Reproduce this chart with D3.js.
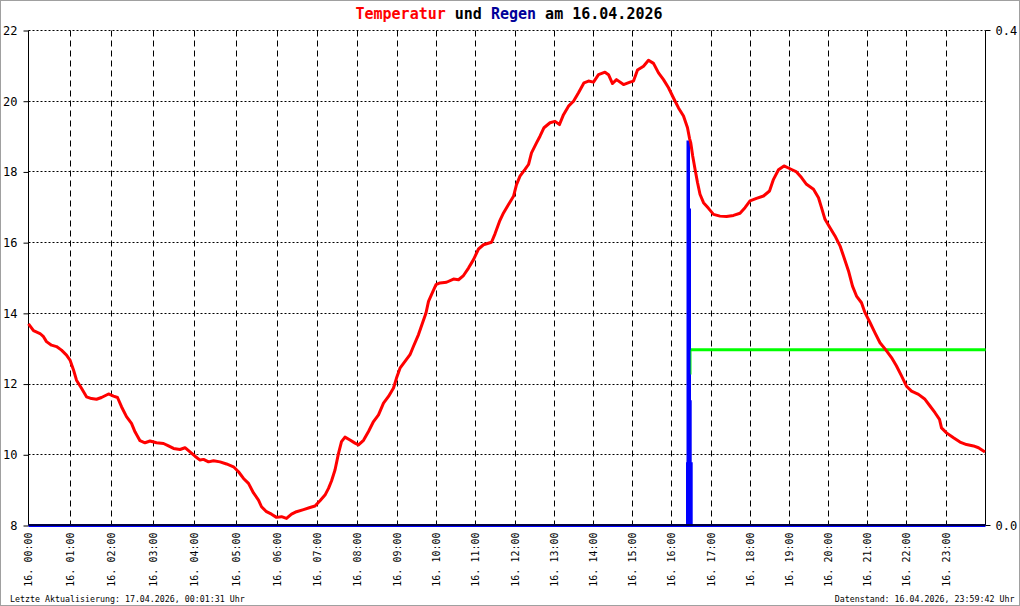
<!DOCTYPE html>
<html>
<head>
<meta charset="utf-8">
<script src="https://cdn.jsdelivr.net/npm/d3@7"></script>
<style>
    body { margin: 0; background: #fff; }
    svg { display: block; }
</style>
</head>
<body>
<div class="chart"></div>
<script>

// Hour labels and the logger sample index at which each hour starts
var hourLabels = ["16. 00:00", "16. 01:00", "16. 02:00", "16. 03:00", "16. 04:00", "16. 05:00",
    "16. 06:00", "16. 07:00", "16. 08:00", "16. 09:00", "16. 10:00", "16. 11:00",
    "16. 12:00", "16. 13:00", "16. 14:00", "16. 15:00", "16. 16:00", "16. 17:00",
    "16. 18:00", "16. 19:00", "16. 20:00", "16. 21:00", "16. 22:00", "16. 23:00"];
var hourSamples = [0, 42, 83, 125, 166, 208, 249, 289, 329, 369, 408, 447,
    487, 526, 565, 604, 643, 683, 722, 761, 800, 839, 878, 918];
var sampleCount = 957;

var tempTicks = [8, 10, 12, 14, 16, 18, 20, 22];
var rainTicks = ["0.4", "0.0"];
var rainTickValues = [0.4, 0.0];

// Temperature (sample index, degrees C)
var tempSamples = [0, 5, 11.5, 15, 18, 23, 28, 33, 38, 41.5, 45, 48, 53, 58, 63, 68, 73, 80, 85, 89,
    93, 98, 103, 106.5, 111.5, 116.5, 121.5, 128, 135, 140, 145, 151.5, 156.5, 161.5, 166.5, 171.5,
    175, 180, 185, 191.5, 198, 205, 210, 215, 220, 225, 230, 233, 238, 243, 248, 253, 258, 263, 268,
    275, 281.5, 286.5, 291.5, 296.5, 300, 303, 306.5, 310, 313, 316.5, 321.5, 326.5, 330, 335, 340,
    345, 350, 355, 360, 365, 368, 371.5, 376.5, 381.5, 385, 390, 394, 397.5, 400, 403, 407.5, 411.5,
    418, 425, 430, 435, 440, 445, 450, 455, 463, 466.5, 471, 475, 480, 485, 488, 491.5, 496.5, 500,
    503, 508, 511.5, 515.5, 521.5, 526.5, 531, 535, 540, 545, 550, 555.5, 560, 565, 570, 576.5, 580,
    584, 588, 595, 601.5, 605, 609, 615, 620, 625, 630, 635, 640, 645, 650, 655, 659, 661, 662.2,
    664.2, 666.5, 669, 671.5, 675, 680, 685, 691.5, 698, 705, 711.5, 716.5, 721.5, 728, 735, 741,
    745, 750, 755.5, 761.5, 768, 773, 778, 785, 790, 793, 796.5, 801.5, 806.5, 811.5, 815, 820, 824,
    828, 833, 836.5, 841.5, 846.5, 851.5, 857.5, 863, 868, 873, 878, 883, 890, 896.5, 901.5, 906.5,
    911, 913, 918, 925, 931.5, 938, 945, 950, 956.5];
var tempValues = [13.70, 13.51, 13.43, 13.34, 13.20, 13.10, 13.06, 12.96, 12.82, 12.68, 12.40, 12.11,
    11.88, 11.64, 11.59, 11.57, 11.62, 11.72, 11.66, 11.62, 11.36, 11.08, 10.89, 10.65, 10.40, 10.34,
    10.39, 10.34, 10.32, 10.25, 10.18, 10.15, 10.20, 10.08, 9.96, 9.85, 9.87, 9.80, 9.83, 9.80, 9.74,
    9.66, 9.52, 9.33, 9.19, 8.92, 8.72, 8.53, 8.39, 8.32, 8.23, 8.25, 8.20, 8.32, 8.39, 8.45, 8.51,
    8.55, 8.70, 8.86, 9.05, 9.26, 9.57, 10.04, 10.37, 10.50, 10.42, 10.33, 10.28, 10.41, 10.66, 10.94,
    11.13, 11.46, 11.65, 11.89, 12.17, 12.45, 12.64, 12.83, 13.07, 13.40, 13.73, 14.01, 14.34, 14.53,
    14.81, 14.86, 14.88, 14.97, 14.95, 15.07, 15.28, 15.52, 15.82, 15.94, 16.01, 16.25, 16.60, 16.84,
    17.08, 17.31, 17.64, 17.88, 18.07, 18.21, 18.54, 18.82, 19.01, 19.25, 19.39, 19.43, 19.34, 19.62,
    19.86, 20.00, 20.24, 20.52, 20.57, 20.54, 20.75, 20.82, 20.75, 20.50, 20.61, 20.47, 20.54, 20.57,
    20.88, 20.99, 21.16, 21.07, 20.80, 20.61, 20.38, 20.09, 19.81, 19.58, 19.25, 18.95, 18.83, 18.45,
    18.08, 17.70, 17.37, 17.13, 16.97, 16.80, 16.75, 16.74, 16.77, 16.83, 16.99, 17.18, 17.25, 17.32,
    17.46, 17.79, 18.06, 18.17, 18.09, 18.00, 17.84, 17.65, 17.51, 17.27, 16.99, 16.66, 16.42, 16.19,
    15.91, 15.62, 15.20, 14.77, 14.49, 14.30, 14.02, 13.74, 13.45, 13.17, 12.96, 12.75, 12.51, 12.23,
    11.94, 11.80, 11.71, 11.57, 11.38, 11.19, 11.00, 10.76, 10.62, 10.48, 10.36, 10.29, 10.25, 10.20,
    10.08];

// Rain per interval (sample index, mm)
var rainSamples = [0, 659, 659.5, 660, 661, 661.7, 662.7, 957];
var rainValues = [0, 0.05, 0.31, 0.255, 0.10, 0.05, 0, 0];

// Rain sum (green)
var sumSamples = [662.5, 662.5, 957];
var sumValues = [0.122, 0.142, 0.142];

var width = 1020,
    height = 606;
var margin = {top: 30, right: 34, bottom: 80, left: 28};

var svg = d3.select(".chart")
    .append("svg")
        .attr("width", width)
        .attr("height", height);

svg.append("rect")
    .attr("width", width)
    .attr("height", height)
    .style("fill", "#fff");

// Scales
var x = d3.scaleLinear()
    .domain([0, sampleCount])
    .range([margin.left + 0.5, width - margin.right - 0.5]);

var y = d3.scaleLinear()
    .domain([8, 22])
    .range([height - margin.bottom - 0.5, margin.top + 0.5]);

var yRain = d3.scaleLinear()
    .domain([0, 0.4])
    .range([height - margin.bottom - 0.5, margin.top + 0.5]);

function crisp(v) { return Math.round(v - 0.5) + 0.5; }

var x0 = x(0), x1 = x(sampleCount), yTop = y(22), yBot = y(8);

// Horizontal dotted grid
svg.append("g").selectAll("line")
    .data(tempTicks.slice(1))
    .enter().append("line")
        .attr("x1", x0)
        .attr("x2", x1)
        .attr("y1", function(d) { return crisp(y(d)); })
        .attr("y2", function(d) { return crisp(y(d)); })
        .style("stroke", "#000")
        .style("stroke-dasharray", "2,2");

// Vertical dashed grid
svg.append("g").selectAll("line")
    .data(hourSamples.slice(1))
    .enter().append("line")
        .attr("x1", function(d) { return x(d); })
        .attr("x2", function(d) { return x(d); })
        .attr("y1", yTop)
        .attr("y2", yBot)
        .style("stroke", "#000")
        .style("stroke-dasharray", "6,4");

// Left axis
var yAxis = d3.axisLeft(y)
    .tickValues(tempTicks)
    .tickSize(5)
    .tickPadding(6)
    .tickFormat(d3.format("d"));

var gy = svg.append("g")
    .attr("transform", "translate(" + x0 + ",0)")
    .call(yAxis);
gy.select(".domain").remove();
gy.selectAll(".tick text")
    .style("font-family", "DejaVu Sans Mono")
    .style("font-size", "12px")
    .style("fill", "#000");

svg.append("line")
    .attr("x1", x0).attr("x2", x0)
    .attr("y1", yTop).attr("y2", yBot)
    .style("stroke", "#000");

// Right axis
svg.append("line")
    .attr("x1", x1).attr("x2", x1)
    .attr("y1", yTop).attr("y2", yBot)
    .style("stroke", "#000");

var right = svg.append("g").selectAll("g")
    .data(rainTickValues)
    .enter().append("g")
        .attr("transform", function(d) { return "translate(" + x1 + "," + crisp(yRain(d)) + ")"; });

right.append("line")
    .attr("x1", 0)
    .attr("x2", 5)
    .style("stroke", "#000");

right.append("text")
    .attr("x", 10)
    .attr("dy", "0.36em")
    .style("font-family", "DejaVu Sans Mono")
    .style("font-size", "12px")
    .text(function(d, i) { return rainTicks[i]; });

// Rain as filled steps
var rainArea = d3.area()
    .x(function(d) { return x(d[0]); })
    .y0(yRain(0))
    .y1(function(d) { return yRain(d[1]); })
    .curve(d3.curveStepAfter);

svg.append("path")
    .datum(d3.zip(rainSamples, rainValues))
    .attr("d", rainArea)
    .style("fill", "#0000ff")
    .style("stroke", "#0000ff")
    .style("stroke-width", 3);

// Bottom axis
svg.append("line")
    .attr("x1", x0).attr("x2", x1)
    .attr("y1", yBot - 0.5).attr("y2", yBot - 0.5)
    .style("stroke", "#000")
    .style("stroke-width", 1.5);

// Rain sum line: thin step, thick level
var sumLine = d3.line()
    .x(function(d) { return x(d[0]); })
    .y(function(d) { return yRain(d[1]); });

var sumData = d3.zip(sumSamples, sumValues);

svg.append("path")
    .datum(sumData)
    .attr("d", sumLine)
    .style("fill", "none")
    .style("stroke", "#00ff00")
    .style("stroke-width", 1);

svg.append("path")
    .datum(sumData.slice(1))
    .attr("d", sumLine)
    .style("fill", "none")
    .style("stroke", "#00ff00")
    .style("stroke-width", 3);

// Temperature line
var tempLine = d3.line()
    .x(function(d) { return x(d[0]); })
    .y(function(d) { return y(d[1]); });

svg.append("path")
    .datum(d3.zip(tempSamples, tempValues))
    .attr("d", tempLine)
    .style("fill", "none")
    .style("stroke", "#ff0000")
    .style("stroke-width", 3)
    .style("stroke-linejoin", "round");

// Rotated hour labels
svg.append("g").selectAll("text")
    .data(hourSamples)
    .enter().append("text")
        .attr("transform", function(d) { return "translate(" + x(d) + "," + (yBot + 7) + ") rotate(-90)"; })
        .attr("dy", "0.35em")
        .attr("text-anchor", "end")
        .style("font-family", "DejaVu Sans Mono")
        .style("font-size", "10px")
        .text(function(d, i) { return hourLabels[i]; });

// Title
var title = svg.append("text")
    .attr("x", 509)
    .attr("y", 19)
    .attr("text-anchor", "middle")
    .style("font-family", "DejaVu Sans Mono")
    .style("font-size", "15px")
    .style("font-weight", "bold")
    .style("white-space", "pre");

title.append("tspan").style("fill", "#ff0000").text("Temperatur");
title.append("tspan").style("fill", "#000").text(" und ");
title.append("tspan").style("fill", "#000099").text("Regen");
title.append("tspan").style("fill", "#000").text(" am 16.04.2026");

// Footer texts
svg.append("text")
    .attr("x", 10)
    .attr("y", 602)
    .style("font-family", "DejaVu Sans Mono")
    .style("font-size", "8.3px")
    .text("Letzte Aktualisierung: 17.04.2026, 00:01:31 Uhr");

svg.append("text")
    .attr("x", 1014.5)
    .attr("y", 602)
    .attr("text-anchor", "end")
    .style("font-family", "DejaVu Sans Mono")
    .style("font-size", "8.3px")
    .text("Datenstand: 16.04.2026, 23:59:42 Uhr");

// Outer frame
svg.append("rect")
    .attr("x", 0.5)
    .attr("y", 0.5)
    .attr("width", width - 1)
    .attr("height", height - 1)
    .style("fill", "none")
    .style("stroke", "#a0a0a0");

</script>
</body>
</html>
